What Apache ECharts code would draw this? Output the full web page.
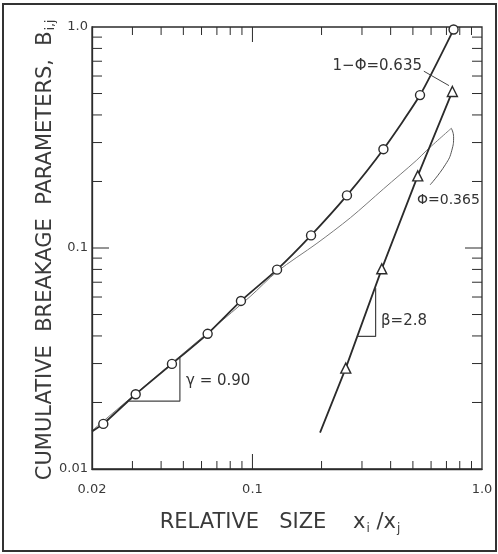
<!DOCTYPE html>
<html>
<head>
<meta charset="utf-8">
<script src="https://cdn.jsdelivr.net/npm/echarts@6/dist/echarts.min.js"></script>
<style>
  html, body { margin: 0; padding: 0; background: #fff; }
  #chart { width: 498px; height: 554px; }
</style>
</head>
<body>
<div id="chart"></div>
<script>
// Relative size x_i/x_j (root-2 sieve series) and cumulative breakage values
const sizeCircles = [0.0224, 0.031, 0.0446, 0.0638, 0.0891, 0.128, 0.18, 0.258, 0.372, 0.537, 0.752];
const bCircles    = [0.0160, 0.0218, 0.0299, 0.0409, 0.0576, 0.0798, 0.114, 0.173, 0.280, 0.492, 0.974];
const sizeTriangles = [0.255, 0.366, 0.525, 0.743];
const bTriangles    = [0.0286, 0.0805, 0.212, 0.511];

// where the drawn curves continue past the measured points
const circleLineStart   = [0.02, 0.0148];
const triangleLineStart = [0.197, 0.0146];

// thin fitted curve
const fitSize = [0.02, 0.0446, 0.0977, 0.128, 0.191, 0.267, 0.372, 0.52, 0.575, 0.735];
const fitB    = [0.0149, 0.0302, 0.0603, 0.0782, 0.105, 0.137, 0.185, 0.25, 0.277, 0.348];

// slope triangles and leader lines (data coordinates)
const gammaSlope = [[0.0290, 0.0203], [0.0483, 0.0203], [0.0483, 0.0318]];
const betaSlope  = [[0.287, 0.0398], [0.344, 0.0398], [0.344, 0.066]];
const phiLeader  = [[0.735, 0.348], [0.752, 0.319], [0.739, 0.277], [0.692, 0.238], [0.594, 0.193]];
const oneMinusPhiLeader = [[0.558, 0.631], [0.718, 0.543]];

// tick positions and labels
const xMinorTicks = [0.03, 0.04, 0.05, 0.06, 0.07, 0.08, 0.09, 0.2, 0.3, 0.4, 0.5, 0.6, 0.7, 0.8, 0.9];
const xMajorTicks = [0.1];
const xLabelValues = [0.02, 0.1, 1];
const yMinorTicks = [0.02, 0.03, 0.04, 0.05, 0.06, 0.07, 0.08, 0.09, 0.2, 0.3, 0.4, 0.5, 0.6, 0.7, 0.8, 0.9];
const yMajorTicks = [0.1];
const yLabelValues = [0.01, 0.1, 1];

const X_MIN = 0.02, X_MAX = 1, Y_MIN = 0.01, Y_MAX = 1;
const GRID = { left: 92, top: 27, width: 390, height: 442 };
const INK = '#2b2b2b';
const FONT = '"DejaVu Sans", sans-serif';

function fmt(v) { return v === 1 ? '1.0' : String(v); }
function zip(xs, ys) { return xs.map((x, i) => [x, ys[i]]); }

// A tick of `len` pixels spans this factor along a log axis of the given size
function lenFactor(len, lo, hi, pixels) {
  return Math.pow(hi / lo, len / pixels);
}

// Inward ticks drawn as short segments on both opposite frame sides
function tickSeriesList(dim, values, len) {
  const out = [];
  values.forEach(v => {
    let a, b;
    if (dim === 'x') {
      const f = lenFactor(len, Y_MIN, Y_MAX, GRID.height);
      a = [[v, Y_MIN], [v, Y_MIN * f]];
      b = [[v, Y_MAX], [v, Y_MAX / f]];
    } else {
      const f = lenFactor(len, X_MIN, X_MAX, GRID.width);
      a = [[X_MIN, v], [X_MIN * f, v]];
      b = [[X_MAX, v], [X_MAX / f, v]];
    }
    [a, b].forEach(seg => out.push({
      type: 'line', symbol: 'none', data: seg,
      lineStyle: { color: INK, width: 1 }
    }));
  });
  return out;
}

const tickSeries = [].concat(
  tickSeriesList('x', xMinorTicks, 8),
  tickSeriesList('x', xMajorTicks, 15),
  tickSeriesList('y', yMinorTicks, 10),
  tickSeriesList('y', yMajorTicks, 17)
);

const dataSeries = [
  { type: 'line', name: 'fit', symbol: 'none', smooth: 0.3,
    lineStyle: { color: '#7a7a7a', width: 1 },
    data: zip(fitSize, fitB) },
  { type: 'line', name: 'B circles', symbol: 'circle', symbolSize: 9, smooth: 0.2,
    lineStyle: { color: INK, width: 1.8 },
    itemStyle: { color: '#fff', borderColor: INK, borderWidth: 1.4 },
    data: [{ value: circleLineStart, symbol: 'none' }].concat(zip(sizeCircles, bCircles)) },
  { type: 'line', name: 'B triangles', symbol: 'triangle', symbolSize: 10,
    lineStyle: { color: INK, width: 1.8 },
    itemStyle: { color: '#fff', borderColor: INK, borderWidth: 1.4 },
    data: [{ value: triangleLineStart, symbol: 'none' }].concat(zip(sizeTriangles, bTriangles)) },
  { type: 'line', name: 'gamma', symbol: 'none',
    lineStyle: { color: '#444', width: 1.2 }, data: gammaSlope },
  { type: 'line', name: 'beta', symbol: 'none',
    lineStyle: { color: '#444', width: 1.2 }, data: betaSlope },
  { type: 'line', name: 'phi leader', symbol: 'none', smooth: 0.5,
    lineStyle: { color: '#555', width: 1 }, data: phiLeader },
  { type: 'line', name: '1-phi leader', symbol: 'none',
    lineStyle: { color: '#444', width: 1 }, data: oneMinusPhiLeader }
];

const chart = echarts.init(document.getElementById('chart'));

chart.setOption({
  animation: false,
  grid: Object.assign({ show: true, borderColor: INK, borderWidth: 1.3 }, GRID),
  xAxis: {
    type: 'log', min: X_MIN, max: X_MAX,
    axisLine: { show: true, lineStyle: { color: INK, width: 1.3 } },
    axisTick: { show: false },
    splitLine: { show: false },
    axisLabel: { customValues: xLabelValues, formatter: fmt,
                 color: '#3a3a3a', fontFamily: FONT, fontSize: 13, margin: 14 }
  },
  yAxis: {
    type: 'log', min: Y_MIN, max: Y_MAX,
    axisLine: { show: true, lineStyle: { color: INK, width: 1.3 } },
    axisTick: { show: false },
    splitLine: { show: false },
    axisLabel: { customValues: yLabelValues, formatter: fmt,
                 color: '#3a3a3a', fontFamily: FONT, fontSize: 13, margin: 4 }
  },
  series: tickSeries.concat(dataSeries),
  graphic: [
    { type: 'rect', silent: true,
      shape: { x: 3, y: 4, width: 493, height: 547 },
      style: { fill: 'none', stroke: '#333', lineWidth: 2 } },
    { type: 'text', silent: true, x: 46, y: 250, rotation: Math.PI / 2,
      style: {
        text: '{m|CUMULATIVE  BREAKAGE  PARAMETERS,  B}{s|i,j}',
        align: 'center', verticalAlign: 'middle',
        rich: {
          m: { fontFamily: FONT, fontSize: 21, fill: '#3a3a3a' },
          s: { fontFamily: FONT, fontSize: 12, fill: '#3a3a3a', padding: [10, 0, 0, 1] }
        }
      } },
    { type: 'text', silent: true, x: 280, y: 523,
      style: {
        text: '{m|RELATIVE   SIZE    x}{s|i}{m| /x}{s|j}',
        align: 'center', verticalAlign: 'middle',
        rich: {
          m: { fontFamily: FONT, fontSize: 21, fill: '#3a3a3a' },
          s: { fontFamily: FONT, fontSize: 12, fill: '#3a3a3a', padding: [12, 0, 0, 1] }
        }
      } },
    { type: 'text', silent: true, x: 422, y: 66,
      style: { text: '1−Φ=0.635', font: '15px ' + FONT, fill: '#333', align: 'right', verticalAlign: 'middle' } },
    { type: 'text', silent: true, x: 417, y: 200,
      style: { text: 'Φ=0.365', font: '14px ' + FONT, fill: '#333', align: 'left', verticalAlign: 'middle' } },
    { type: 'text', silent: true, x: 381, y: 321,
      style: { text: 'β=2.8', font: '15px ' + FONT, fill: '#333', align: 'left', verticalAlign: 'middle' } },
    { type: 'text', silent: true, x: 186, y: 381,
      style: { text: 'γ = 0.90', font: '15px ' + FONT, fill: '#333', align: 'left', verticalAlign: 'middle' } }
  ]
});
</script>
</body>
</html>
